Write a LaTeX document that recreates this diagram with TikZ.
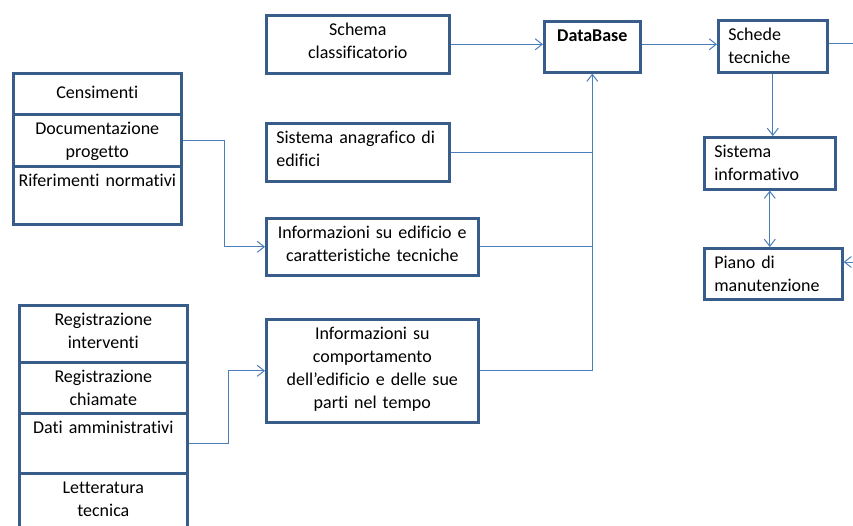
\documentclass[tikz,border=0pt]{standalone}
\usepackage{fontspec}
\setmainfont{Carlito}[Ligatures=NoCommon,WordSpace=0.85]
\usetikzlibrary{arrows.meta}
\definecolor{edge}{HTML}{385D8A}
\definecolor{wireblue}{HTML}{4A7EBB}

\begin{document}
\begin{tikzpicture}[
  x=1pt,y=-1pt,
  every node/.style={font=\fontsize{18}{23}\selectfont},
  box/.style={draw=edge,line width=2.6pt,fill=white,anchor=north west,
              inner xsep=3pt,inner ysep=0pt,text height=20pt,align=center},
  lbox/.style={box,inner xsep=10pt,align=left},
  wire/.style={draw=wireblue,line width=1pt},
  arr/.style={wire,-{Straight Barb[length=7pt,width=11pt]}},
  darr/.style={wire,{Straight Barb[length=7pt,width=11pt]}-{Straight Barb[length=7pt,width=11pt]}}
]
\useasboundingbox (0,0) rectangle (853,525);
\clip (0,0) rectangle (853,525);

% sources
\node[box,text height=25pt,text depth=16pt,text width=162pt] (cens) at (12,72) {Censimenti};
\node[box,text depth=32pt,text width=162pt] (docu) at (12,113) {Documentazione\\progetto};
\node[box,text depth=38pt,text width=162pt] (rifer) at (12,165) {Riferimenti normativi};
\node[box,text depth=37pt,text width=162pt] (regint) at (18,304) {Registrazione\\interventi};
\node[box,text depth=31pt,text width=162pt] (regchi) at (18,361) {Registrazione\\chiamate};
\node[box,text depth=40pt,text width=162pt] (dati) at (18,412) {Dati amministrativi};
\node[box,text depth=50pt,text width=162pt] (lett) at (18,472) {Letteratura\\tecnica};

% middle column
\node[box,text depth=38pt,text width=177pt] (schema) at (265,14) {Schema\\classificatorio};
\node[lbox,text depth=38pt,text width=163pt] (sistana) at (265,122) {Sistema anagrafico di\\edifici};
\node[box,text depth=37pt,text width=206pt] (infoedif) at (265,217) {Informazioni su edificio e\\caratteristiche tecniche};
\node[box,text depth=83pt,text width=206pt] (infocomp) at (265,318) {Informazioni su\\comportamento\\dell’edificio e delle sue\\parti nel tempo};

% right column
\node[box,text depth=31pt,text width=90pt,font=\fontsize{18}{23}\selectfont\bfseries] (db) at (543,20) {DataBase};
\node[lbox,text depth=32pt,text width=89pt] (schede) at (717,19) {Schede\\tecniche};
\node[lbox,text depth=32pt,text width=111pt] (sysinfo) at (703,136) {Sistema\\informativo};
\node[lbox,text depth=31pt,text width=118pt] (piano) at (703,247) {Piano di\\manutenzione};

\coordinate (offr) at (853,43);
\coordinate (offp) at (853,262);

\draw[arr] (docu.east) -- ++(42,0) |- (infoedif.west);
\draw[arr] (dati.east) -- ++(40,0) |- (infocomp.west);
\draw[arr] (schema.east) -- (schema.east -| db.west);
\draw[wire] (sistana.east) -- (sistana.east -| db.south);
\draw[wire] (infoedif.east) -- (infoedif.east -| db.south);
\draw[arr] (infocomp.east) -| (db.south);
\draw[arr] (db.east |- schema.east) -- (schede.west |- schema.east);
\draw[wire] (schede.east |- offr) -- (offr);
\draw[arr] (schede.south) -- (schede.south |- sysinfo.north);
\draw[darr] (sysinfo.south) -- (sysinfo.south |- piano.north);
\draw[arr] (offp) -- (offp -| piano.east);
\end{tikzpicture}
\end{document}
